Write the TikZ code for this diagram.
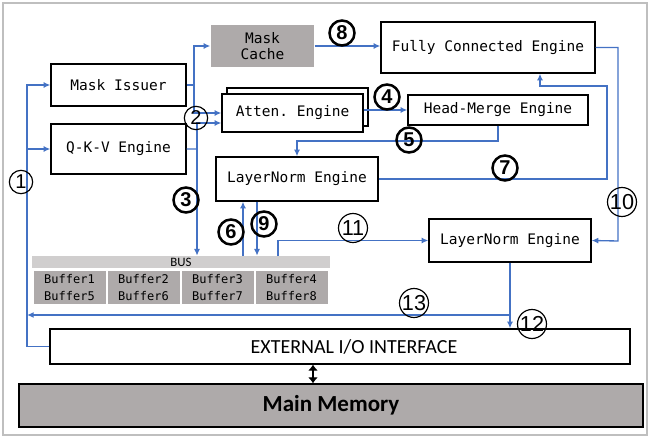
\documentclass[tikz,border=0pt]{standalone}
\usepackage{fontspec}
\setmainfont{Carlito}
\setsansfont{Liberation Sans}
\setmonofont{DejaVu Sans Mono}
\usetikzlibrary{positioning,arrows.meta}
\definecolor{lnblue}{RGB}{68,114,196}
\definecolor{boxgray}{RGB}{174,170,170}
\definecolor{busgray}{RGB}{208,206,206}
\definecolor{framegray}{RGB}{191,191,191}
\tikzset{
    engine/.style={draw, line width=0.8pt, fill=white, inner sep=0pt,
        font=\fontsize{8.7}{9.6}\selectfont\ttfamily},
    buffer/.style={fill=boxgray, inner sep=0pt, minimum width=43.2pt,
        minimum height=19.8pt, align=center,
        font=\fontsize{7.2}{10.2}\selectfont\ttfamily},
    flow/.style={draw=lnblue, line width=0.8pt, -{Latex[length=4pt,width=3.6pt]}},
    link/.style={draw=lnblue, line width=0.8pt},
    stage/.style={circle, draw, line width=0.7pt, inner sep=0pt,
        minimum size=14pt, font=\fontsize{12}{12}\selectfont\sffamily},
    stagewide/.style={stage, minimum size=17.4pt, font=\fontsize{13}{13}\selectfont\sffamily},
    stagebold/.style={stage, line width=1.5pt, minimum size=15pt,
        font=\fontsize{12}{12}\selectfont\sffamily\bfseries}
}
\begin{document}
\begin{tikzpicture}[x=0.6pt,y=-0.6pt,on grid]
            \useasboundingbox (0,0) rectangle (649,437);
            \draw[framegray, line width=1.2pt] (3,3) rectangle (647,435);

            % engines
            \node[engine, minimum width=81pt, minimum height=25.2pt] (mask_iss) at (118.5,85) {Mask Issuer};
            \node[engine, minimum width=81pt, minimum height=30pt] (qkv) [below=38.4pt of mask_iss] {Q-K-V Engine};
            \node[engine, fill=boxgray, draw=none, minimum width=61.8pt, minimum height=25.2pt, align=center] (mask_cache) at (262.5,46) {Mask\\Cache};
            \node[engine, minimum width=84.6pt, minimum height=22.8pt] (atten_bk) at (297.5,107) {};
            \node[engine, minimum width=84.6pt, minimum height=22.8pt] (atten) at (292.5,113) {Atten. Engine};
            \node[engine, minimum width=128.4pt, minimum height=30.6pt] (fc) at (488,47.5) {Fully Connected Engine};
            \node[engine, minimum width=108pt, minimum height=18pt] (hm) at (498,110) {Head-Merge Engine};
            \node[engine, minimum width=97.2pt, minimum height=26.4pt] (ln_1) at (297,179) {LayerNorm Engine};
            \node[engine, minimum width=97.2pt, minimum height=25.8pt] (ln_2) at (510,240.5) {LayerNorm Engine};

            % bus and buffers
            \node[fill=busgray, minimum width=178.8pt, minimum height=7.2pt, inner sep=0pt, font=\fontsize{7.7}{8}\selectfont] (bus) at (181,262) {BUS};
            \node[buffer] (buf_1) at (69.5,287.5) {Buffer1\\Buffer5};
            \node[buffer] (buf_2) [right=44.4pt of buf_1] {Buffer2\\Buffer6};
            \node[buffer] (buf_3) [right=44.4pt of buf_2] {Buffer3\\Buffer7};
            \node[buffer] (buf_4) [right=44.4pt of buf_3] {Buffer4\\Buffer8};

            % interface and memory
            \node[draw, line width=0.8pt, minimum width=348pt, minimum height=21pt, inner sep=0pt, font=\fontsize{12}{14}\selectfont] (ext_io) at (340,346.5) {\hspace*{16.8pt}EXTERNAL I/O INTERFACE};
            \node[draw, line width=0.8pt, fill=boxgray, minimum width=374.4pt, minimum height=25.8pt, inner sep=0pt, font=\fontsize{13.8}{16}\selectfont\bfseries] (mem) at (331,405.5) {Main Memory};
            \draw[{Latex[length=3.6pt,width=6pt]}-{Latex[length=3.6pt,width=6pt]}, line width=1.5pt] (ext_io.south -| 313,0) -- (mem.north -| 313,0);

            % connectors
            \coordinate (j_1) at (27,85);
            \coordinate (j_iss) at (194,85);
            \coordinate (j_qkv) at (197,149);
            \coordinate (j_5) at (297,141);
            \coordinate (j_7) at (607,86);
            \coordinate (j_10) at (618,241);
            \draw[flow] (ext_io.west) -| (j_1) -- (mask_iss.west);
            \draw[flow] (j_1 |- qkv.west) -- (qkv.west);
            \draw[link] (mask_iss.east) -- (j_iss);
            \draw[flow] (j_iss) |- (mask_cache.west);
            \draw[flow] (j_iss) |- (atten.west);
            \draw[link] (qkv.east) -- (j_qkv);
            \draw[flow] (j_qkv) |- ([yshift=-6pt]atten.west);
            \draw[flow] (j_qkv) -- (j_qkv |- bus.north);
            \draw[flow] (mask_cache.east) -- (mask_cache.east -| fc.west);
            \draw[flow] (atten.east |- hm.west) -- (hm.west);
            \draw[flow] (hm.south) |- (j_5) -- (ln_1.north);
            \draw[flow] (ln_1.east) -| (j_7) -| ([xshift=31.2pt]fc.south);
            \draw[flow] (fc.east) -| (j_10) -- (ln_2.east);
            \draw[flow] (bus.north -| 243,0) -- (ln_1.south -| 243,0);
            \draw[flow] (ln_1.south -| 257,0) -- (bus.north -| 257,0);
            \draw[flow] (bus.north -| 278,0) |- (ln_2.west);
            \draw[flow] (ln_2.south) -- (ln_2.south |- ext_io.north);
            \draw[flow] (ln_2.south |- 0,315) -- (j_1 |- 0,315);

            % stage numbers
            \node[stage] (n_1) at (21,182) {1};
            \node[stage] (n_2) at (196,118) {2};
            \node[stagebold] (n_3) at (186,200) {3};
            \node[stagebold] (n_4) at (387,97) {4};
            \node[stagebold] (n_5) at (409,140) {5};
            \node[stagebold] (n_6) at (231,232) {6};
            \node[stagebold] (n_7) at (505,168) {7};
            \node[stagebold] (n_8) at (342,33) {8};
            \node[stagebold] (n_9) at (264,224) {9};
            \node[stagewide] (n_10) at (622,202) {10};
            \node[stagewide] (n_11) at (353,228) {11};
            \node[stagewide] (n_12) at (532,324) {12};
            \node[stagewide] (n_13) at (414,303) {13};
        \end{tikzpicture}
\end{document}
